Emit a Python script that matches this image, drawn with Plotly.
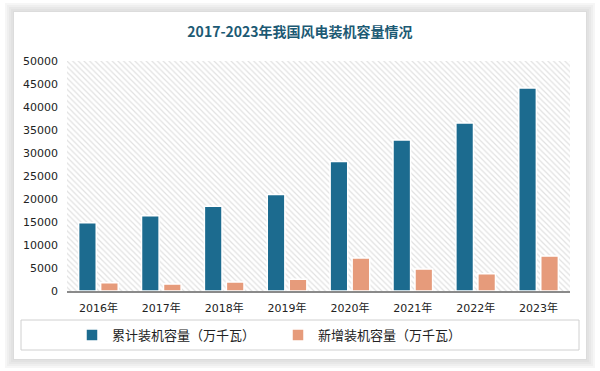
import plotly.graph_objects as go

years = ["2016年", "2017年", "2018年", "2019年", "2020年", "2021年", "2022年", "2023年"]
cumulative = [14864, 16367, 18426, 21005, 28153, 32848, 36544, 44134]
added = [1800, 1500, 1950, 2574, 7167, 4757, 3763, 7590]
y_ticks = [0, 5000, 10000, 15000, 20000, 25000, 30000, 35000, 40000, 45000, 50000]

title_text = "2017-2023年我国风电装机容量情况"
name_cum = "累计装机容量（万千瓦）"
name_add = "新增装机容量（万千瓦）"

BLUE = "#1c6b8f"
ORANGE = "#e69b7b"

fig = go.Figure()

# hatched plot-area background on hidden primary axes
fig.add_trace(go.Scatter(
    x=[0, 1, 1, 0, 0], y=[0, 0, 1, 1, 0], mode="lines", fill="toself",
    line=dict(width=0), fillcolor="white",
    fillpattern=dict(shape="\\", fgcolor="#c4c4c4", bgcolor="white", size=4, solidity=0.3),
    hoverinfo="skip", showlegend=False, xaxis="x", yaxis="y",
))

fig.add_trace(go.Bar(
    x=years, y=cumulative, name=name_cum, marker=dict(color=BLUE, line=dict(color="white", width=1.5)),
    xaxis="x2", yaxis="y2",
))
fig.add_trace(go.Bar(
    x=years, y=added, name=name_add, marker=dict(color=ORANGE, line=dict(color="white", width=1.5)),
    xaxis="x2", yaxis="y2",
))

L, R, T, B = 67, 30, 61, 80
W, H = 600, 371
pw, ph = W - L - R, H - T - B

def px(x):
    return (x - L) / pw

def py(y):
    return (H - B - y) / ph

shapes = []
# card shadow
for d, c in [(9, "#f6f6f6"), (7, "#efefef"), (5, "#e8e8e8"), (3, "#e2e2e2"), (1, "#dcdcdc")]:
    shapes.append(dict(type="rect", xref="paper", yref="paper", layer="below",
                       x0=px(14 - d), x1=px(586 + d), y0=py(12 - d), y1=py(359 + d),
                       line=dict(width=0), fillcolor=c))
shapes.append(dict(type="rect", xref="paper", yref="paper", layer="below",
                   x0=px(14), x1=px(586), y0=py(12), y1=py(359),
                   line=dict(width=0), fillcolor="white"))
# legend box
shapes.append(dict(type="rect", xref="paper", yref="paper", layer="below",
                   x0=px(21), x1=px(579), y0=py(320), y1=py(350),
                   line=dict(width=1, color="#d0d0d0"), fillcolor="rgba(0,0,0,0)"))

fig.update_layout(
    width=W, height=H,
    margin=dict(l=L, r=R, t=T, b=B),
    paper_bgcolor="white", plot_bgcolor="rgba(0,0,0,0)",
    title=dict(text=title_text, x=0.5, xanchor="center", y=1 - 32 / H, yanchor="middle",
               font=dict(family="Noto Sans CJK SC", size=14, color="#1c5a74", weight="bold")),
    barmode="group", bargap=0.30, bargroupgap=0.2,
    xaxis=dict(range=[0, 1], visible=False, fixedrange=True),
    yaxis=dict(range=[0, 1], visible=False, fixedrange=True),
    xaxis2=dict(overlaying="x", anchor="y2", showgrid=False, showline=True, linecolor="#8a8a8a",
                linewidth=1.5, ticks="", tickfont=dict(family="DejaVu Sans, Noto Sans CJK SC", size=11, color="#222"),
                ticklabelstandoff=6),
    yaxis2=dict(overlaying="y", anchor="x2", range=[0, 50000], tickvals=y_ticks, tickformat="d",
                showgrid=False, zeroline=False, showline=False, ticks="", ticklabelstandoff=8,
                tickfont=dict(family="DejaVu Sans", size=11, color="#222")),
    legend=dict(orientation="h", x=px(72), xanchor="left", y=py(335), yanchor="middle",
                font=dict(family="Noto Sans CJK SC", size=13, color="#222"),
                entrywidth=161, entrywidthmode="pixels", itemwidth=30,
                bgcolor="rgba(0,0,0,0)"),
    shapes=shapes,
    showlegend=True,
)

fig.write_html("out.html", post_script="document.body.style.margin='0';",
               config={"displayModeBar": False})
